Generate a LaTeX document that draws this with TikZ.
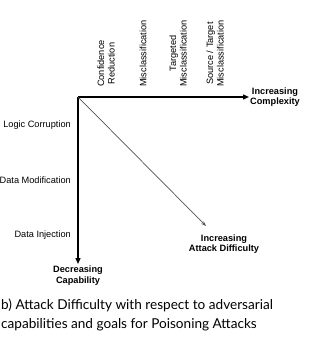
\documentclass[tikz,border=0pt]{standalone}
\usepackage{fontspec}
\setmainfont{Liberation Sans}
\newfontfamily\capfont{Lato}
\usepackage{tikz}
\usetikzlibrary{arrows.meta,positioning,calc}
\definecolor{ink}{HTML}{000000}
\definecolor{diaggray}{HTML}{555555}
\tikzset{
  axisarr/.style={-{Triangle[length=6pt,width=5pt]},line width=1.4pt,color=ink},
  diagarr/.style={-{Stealth[length=5pt,width=3.5pt]},line width=0.7pt,color=diaggray},
  goallabel/.style={rotate=90,anchor=west,align=center,font=\fontsize{9.2}{10.5}\selectfont,inner sep=1pt},
  caplabel/.style={anchor=east,font=\fontsize{9.2}{10.5}\selectfont,inner sep=1pt},
  axislabel/.style={align=center,font=\fontsize{9.2}{10.5}\selectfont\bfseries,inner sep=1pt},
  captext/.style={anchor=north west,align=left,font=\capfont\fontsize{13.6}{19}\selectfont,inner sep=0pt},
}

\begin{document}
\begin{tikzpicture}[x=1pt,y=-1pt]
  \useasboundingbox (0,0) rectangle (308,355);
  \coordinate (o) at (78,97);
  \coordinate (cplx) at (249,97);
  \coordinate (capb) at (78,264);
  \coordinate (diff) at (206,226);

  % goals along the top
  \node[goallabel] (conf) at (106,88) {Confidence\\Reduction};
  \node[goallabel] (mis) at (143,88) {Misclassification};
  \node[goallabel] (tmis) at (178,88) {Targeted\\Misclassification};
  \node[goallabel] (stmis) at (215,88) {Source / Target\\Misclassification};

  % capabilities down the side
  \node[caplabel] (logic) at (72,125) {Logic Corruption};
  \node[caplabel] (dmod) at (72,180) {Data Modification};
  \node[caplabel] (dinj) at (72,235) {Data Injection};

  \draw[axisarr] (o) -- (cplx);
  \draw[axisarr] (o) -- (capb);
  \draw[diagarr] (o) -- (diff);

  \node[axislabel, right=0pt of cplx] (cplxlabel) {Increasing\\Complexity};
  \node[axislabel, below=1pt of capb] (capblabel) {Decreasing\\Capability};
  \node[axislabel] (difflabel) at (224,244) {Increasing\\Attack Difficulty};

  \node[captext] (caption) at (1,299) {b) Attack Difficulty with respect to adversarial\\capabilities and goals for Poisoning Attacks};
\end{tikzpicture}
\end{document}
